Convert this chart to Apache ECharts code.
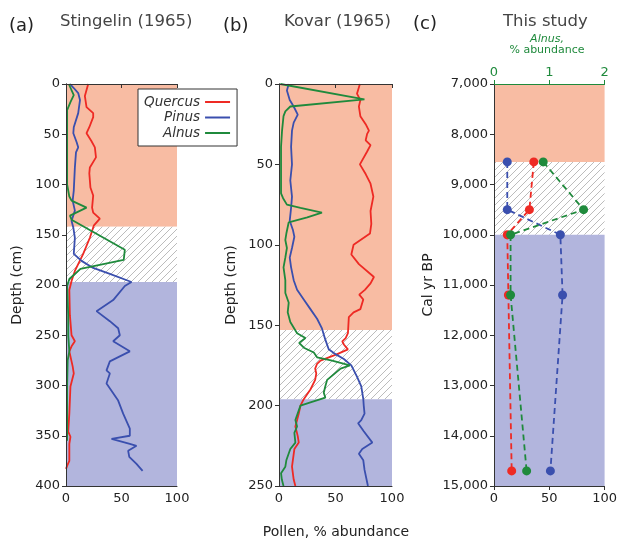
<!DOCTYPE html>
<html><head><meta charset="utf-8">
<script src="https://cdn.jsdelivr.net/npm/echarts@6/dist/echarts.min.js"></script>
<style>html,body{margin:0;padding:0;background:#fff}#c{width:620px;height:542px}</style>
</head><body><div id="c"></div>
<script>
// ---- Data: [percent, depth] pairs ----
const stingelinQuercus = [[20,0],[17,12],[18.5,23],[24.5,29],[24.5,33],[21,43],[18.5,49],[23,57],[26,63],[27,73],[21.5,83],[21,89],[22,103],[24.5,111],[23.5,123],[24.5,128],[30.5,134],[25,141],[21.5,153],[15.5,169],[8,186],[5,196],[3,205],[3.5,230],[5,250],[8,256],[5,261],[3,266],[6,281],[7,288],[4,301],[3,328],[2,346],[4,351],[3,358],[3,375],[1,380],[0,383]];
const stingelinPinus = [[3.6,0],[7,4],[11,9],[12.6,16],[11,29],[7,43],[6.6,49],[9.6,58],[11,63],[9,68],[8,83],[7,106],[6,116],[8,126],[5,136],[6.6,143],[8,153],[7,169],[14,176],[24.5,183],[39.5,189],[59,197],[53,201],[42.5,215],[27.5,226],[39.5,236],[47,243],[48.5,250],[42.5,256],[57.5,266],[39.5,276],[36.5,285],[39.5,288],[36.5,298],[47,315],[51.5,328],[57.5,343],[57.5,350],[41,353],[57.5,358],[63.5,360],[56,365],[57,371],[63.5,378],[69,385]];
const stingelinAlnus = [[2.5,0],[7,11],[4,18],[1,26],[1,60],[1,100],[3,112],[5,116],[18.5,123],[3.6,131],[5,135],[53,165],[52,175],[13,184],[3,194],[1,201],[2,230],[2,250],[3,266],[1.5,275],[1,300],[1,355]];

const kovarQuercus = [[71.6,0],[69,6],[72,10],[70.7,14],[72,20],[76.7,25],[79.6,29],[78,31],[76.7,35],[81,38],[78,42],[71.6,50],[76.7,56],[81,62],[83.5,70],[81,79],[81.7,87],[80.5,93],[66,100],[64,106],[70.7,112],[84,120],[81,124],[76,128],[71,131],[74.6,134],[72,140],[66,142],[61.8,145],[61,155],[59,158],[56,160],[57.4,162],[61,165],[51.5,168],[36.7,172],[33.7,174],[32,177],[33,180],[32,184],[27.8,190],[21.9,196],[19,200],[17.5,205],[14.5,213],[16.6,219],[17.5,223],[13.6,227],[11.5,238],[13,246],[14.5,250]];
const kovarPinus = [[8.6,0],[7,4],[9.5,10],[13,14],[16.6,19],[13,24],[11.5,29],[10.7,39],[11.5,50],[10,60],[11.5,70],[10.7,77],[9.5,85],[12.4,91],[13.6,95],[11.5,102],[9.5,108],[10.7,114],[13,122],[16,128],[21.9,134],[27.8,140],[33.7,146],[38,152],[41,159],[44,165],[50,168],[57.4,171],[64,175],[69,182],[72.8,188],[74.6,196],[75,200],[75.7,205],[72.8,209],[70,211],[75,216],[82.6,223],[73.7,227],[70.7,230],[74.6,234],[75.7,240],[78.7,250]];
const kovarAlnus = [[1.2,0],[75.6,9.5],[10,14],[5.6,17],[4,20],[2.7,29],[1.8,39],[1.8,68],[3.6,71],[7,75],[19,77],[38,80],[25,83],[8.6,86],[6.5,93],[5.6,97],[7,102],[5.6,108],[4,114],[5.6,122],[5.6,130],[8.6,136],[7.7,142],[10,148],[16,155],[23.4,158],[17.8,161],[22,164],[30.8,167],[33.7,170],[47,172],[62.7,175],[54.5,177],[42.6,184],[41,188],[39.6,192],[41,195],[27.8,198],[19,200],[14.5,209],[16,213],[13.6,217],[14.5,223],[10,227],[6.5,234],[5.6,238],[1.8,242],[2.5,246],[4,250]];

const studyAges = [8550, 9500, 10000, 11200, 14700];
const studyQuercus = [36, 32, 12, 13, 16];
const studyPinus = [12, 12, 60, 62, 51];
const studyAlnus = [0.89, 1.62, 0.30, 0.30, 0.59];

// zone boundaries
const zonesA = [0, 142, 197, 400];
const zonesB = [0, 153, 196, 250];
const zonesC = [7000, 8550, 10000, 15000];

const RED = '#ee2a24', BLUE = '#3a4fae', GREEN = '#1f8a3c';
const ORANGE = '#f8bca3', LAV = '#b2b5dd';
const FONT = 'DejaVu Sans';

// hatch pattern
const pc = document.createElement('canvas');
pc.width = 7; pc.height = 7;
const px = pc.getContext('2d');
px.fillStyle = '#ffffff'; px.fillRect(0,0,7,7);
px.strokeStyle = '#b4b4b4'; px.lineWidth = 0.9;
px.beginPath();
px.moveTo(-1,8); px.lineTo(8,-1);
px.moveTo(-1,1); px.lineTo(1,-1);
px.moveTo(6,8); px.lineTo(8,6);
px.stroke();
const HATCH = {image: pc, repeat: 'repeat'};

function zoneArea(z) {
  return {
    silent: true,
    data: [
      [{yAxis: z[0], itemStyle:{color: ORANGE}}, {yAxis: z[1]}],
      [{yAxis: z[1], itemStyle:{color: HATCH}}, {yAxis: z[2]}],
      [{yAxis: z[2], itemStyle:{color: LAV}}, {yAxis: z[3]}]
    ]
  };
}

const grids = [
  {left: 66, top: 84, width: 111, height: 402},
  {left: 279, top: 84, width: 113, height: 402},
  {left: 494, top: 84, width: 112, height: 402}
];

const lab = {color: '#222', fontSize: 13, fontFamily: FONT};
const axLine = {show: true, lineStyle: {color: '#333', width: 1}};
const tick = {show: true, inside: false, length: 4, lineStyle: {color: '#333'}};

function pctAxis(gi) {
  return {type: 'value', gridIndex: gi, min: 0, max: 100, interval: 50, position: 'bottom', z: 10,
    axisLine: axLine, axisTick: tick, axisLabel: Object.assign({margin: 6}, lab), splitLine: {show: false}};
}
function frameX(gi) {
  return {type: 'value', gridIndex: gi, min: 0, max: 1, position: 'top', z: 10,
    axisLine: axLine, axisTick: {show: false}, axisLabel: {show: false}, splitLine: {show: false}};
}
function depthAxis(gi, min, max, interval) {
  return {type: 'value', gridIndex: gi, min: min, max: max, interval: interval, inverse: true, position: 'left', z: 10,
    axisLine: axLine, axisTick: tick, axisLabel: Object.assign({margin: 6}, lab), splitLine: {show: false}};
}
function frameY(gi) {
  return {type: 'value', gridIndex: gi, min: 0, max: 1, position: 'right', z: 10,
    axisLine: axLine, axisTick: {show: false}, axisLabel: {show: false}, splitLine: {show: false}};
}

const xAxis = [
  pctAxis(0), frameX(0),
  pctAxis(1), frameX(1),
  pctAxis(2),
  {type: 'value', gridIndex: 2, min: 0, max: 2, interval: 1, position: 'top', z: 10,
    axisLine: {show: true, lineStyle: {color: GREEN, width: 1}},
    axisTick: {show: true, length: 4, lineStyle: {color: GREEN}},
    axisLabel: {color: GREEN, fontSize: 13, fontFamily: FONT, margin: 5}, splitLine: {show: false}}
];
const yAxis = [
  depthAxis(0, 0, 400, 50), frameY(0),
  depthAxis(1, 0, 250, 50), frameY(1),
  depthAxis(2, 7000, 15000, 1000), frameY(2)
];

function prof(name, color, data, xi, yi, area) {
  const s = {type: 'line', name: name, xAxisIndex: xi, yAxisIndex: yi, data: data,
    showSymbol: false, symbol: 'none', lineStyle: {color: color, width: 1.8}, itemStyle: {color: color},
    animation: false, z: 3};
  if (area) s.markArea = area;
  return s;
}
function dashed(name, color, vals, xi, yi) {
  return {type: 'line', name: name, xAxisIndex: xi, yAxisIndex: yi,
    data: vals.map((v, i) => [v, studyAges[i]]),
    symbol: 'circle', symbolSize: 9, showSymbol: true,
    lineStyle: {color: color, width: 1.8, type: [6, 4]}, itemStyle: {color: color},
    animation: false, z: 4};
}

const series = [
  prof('Quercus', RED, stingelinQuercus, 0, 0, zoneArea(zonesA)),
  prof('Pinus', BLUE, stingelinPinus, 0, 0),
  prof('Alnus', GREEN, stingelinAlnus, 0, 0),
  prof('Quercus', RED, kovarQuercus, 2, 2, zoneArea(zonesB)),
  prof('Pinus', BLUE, kovarPinus, 2, 2),
  prof('Alnus', GREEN, kovarAlnus, 2, 2),
  Object.assign(dashed('Quercus', RED, studyQuercus, 4, 4), {markArea: zoneArea(zonesC)}),
  dashed('Pinus', BLUE, studyPinus, 4, 4),
  dashed('Alnus', GREEN, studyAlnus, 5, 4)
];

const txt = (x, y, text, size, extra) => ({type: 'text', left: x, top: y, z: 20,
  style: Object.assign({text: text, font: size + 'px "' + FONT + '"', fill: '#222'}, extra || {})});
const ctxt = (x, y, text, font, fill, rot) => ({type: 'text', z: 20, x: x, y: y, rotation: rot || 0,
  style: {text: text, font: font, fill: fill, align: 'center', verticalAlign: 'middle'}});

const chart = echarts.init(document.getElementById('c'), null, {renderer: 'canvas'});
chart.setOption({
  animation: false,
  backgroundColor: '#fff',
  grid: grids,
  xAxis: xAxis,
  yAxis: yAxis,
  series: series,
  legend: {
    orient: 'vertical', left: 138, top: 89, align: 'right',
    data: ['Quercus', 'Pinus', 'Alnus'],
    icon: 'rect', itemWidth: 25, itemHeight: 2, itemGap: 1.5,
    backgroundColor: '#fff', borderColor: '#333', borderWidth: 1, borderRadius: 0,
    padding: [6, 7, 6, 6],
    textStyle: {fontStyle: 'italic', fontSize: 13.5, fontFamily: FONT, color: '#333', lineHeight: 13},
    selectedMode: false, z: 30
  },
  graphic: [
    txt(9, 17, '(a)', 18),
    txt(60, 13, 'Stingelin (1965)', 16.5, {fill: '#444'}),
    txt(223, 17, '(b)', 18),
    txt(284, 13, 'Kovar (1965)', 16.5, {fill: '#444'}),
    txt(413, 15, '(c)', 18),
    txt(503, 13, 'This study', 16.5, {fill: '#444'}),
    ctxt(547, 39, 'Alnus,', 'italic 11px "' + FONT + '"', GREEN),
    ctxt(547, 50.5, '% abundance', '11px "' + FONT + '"', GREEN),
    ctxt(17, 285, 'Depth (cm)', '14px "' + FONT + '"', '#222', Math.PI/2),
    ctxt(231, 285, 'Depth (cm)', '14px "' + FONT + '"', '#222', Math.PI/2),
    ctxt(428, 285, 'Cal yr BP', '14px "' + FONT + '"', '#222', Math.PI/2),
    ctxt(336, 532, 'Pollen, % abundance', '14px "' + FONT + '"', '#222')
  ]
});
</script></body></html>
